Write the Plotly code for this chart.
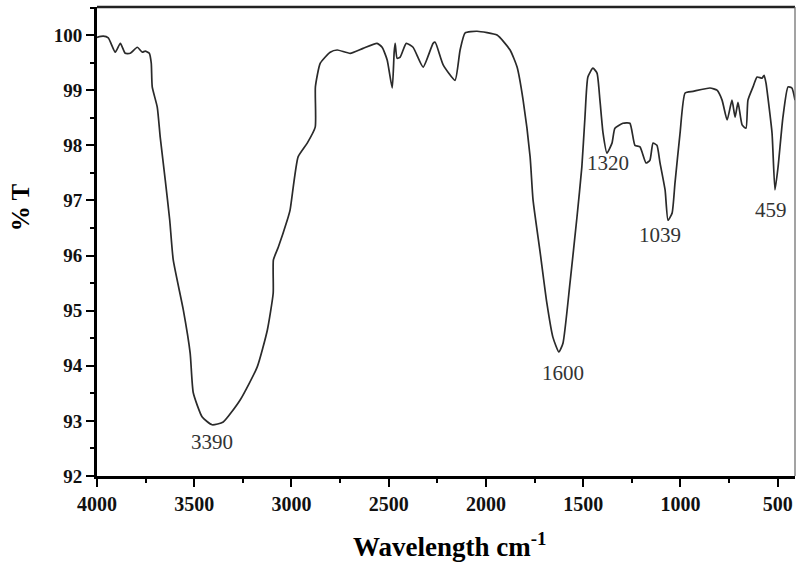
import plotly.graph_objects as go

wavenumber = [4000, 3968, 3942, 3906, 3880, 3855, 3829, 3793, 3767, 3752, 3731, 3721, 3716, 3690,
              3675, 3649, 3626, 3608, 3556, 3521, 3505, 3459, 3408, 3351, 3264, 3176, 3124, 3094,
              3093, 3068, 3022, 3007, 2966, 2919, 2878, 2877, 2852, 2801, 2765, 2698, 2632, 2560,
              2534, 2508, 2482, 2472, 2467, 2457, 2441, 2410, 2375, 2323, 2272, 2261, 2220, 2159,
              2133, 2107, 2046, 1943, 1876, 1840, 1809, 1773, 1758, 1723, 1687, 1656, 1625, 1604,
              1568, 1532, 1507, 1491, 1476, 1450, 1429, 1414, 1398, 1378, 1352, 1337, 1296, 1260,
              1234, 1208, 1177, 1157, 1141, 1121, 1105, 1079, 1064, 1043, 1028, 1002, 976, 935,
              848, 812, 786, 760, 735, 719, 704, 683, 663, 653, 627, 606, 580, 570, 560, 550, 529,
              514, 498, 473, 447, 427, 411]
transmittance = [99.96, 99.98, 99.95, 99.69, 99.85, 99.67, 99.67, 99.78, 99.69, 99.71, 99.67, 99.49,
                 99.06, 98.69, 98.15, 97.37, 96.64, 95.92, 95.01, 94.23, 93.51, 93.07, 92.93, 92.98,
                 93.38, 93.98, 94.65, 95.32, 95.92, 96.15, 96.64, 96.83, 97.79, 98.04, 98.33, 99.06,
                 99.49, 99.69, 99.73, 99.67, 99.76, 99.85, 99.78, 99.55, 99.04, 99.69, 99.85, 99.58,
                 99.60, 99.85, 99.78, 99.42, 99.85, 99.87, 99.46, 99.18, 99.73, 100.04, 100.07, 100.00,
                 99.73, 99.42, 98.82, 97.79, 97.01, 96.10, 95.14, 94.52, 94.25, 94.41, 95.50, 96.70,
                 97.61, 98.51, 99.24, 99.40, 99.31, 98.82, 98.22, 97.86, 98.04, 98.31, 98.40, 98.40,
                 98.00, 97.97, 97.68, 97.73, 98.04, 98.00, 97.68, 97.19, 96.64, 96.77, 97.32, 98.22,
                 98.95, 98.98, 99.04, 99.00, 98.82, 98.46, 98.82, 98.51, 98.78, 98.37, 98.31, 98.82,
                 99.06, 99.24, 99.22, 99.27, 99.13, 98.86, 98.22, 97.19, 97.61, 98.51, 99.06, 99.04,
                 98.82]

peak_labels = ["3390", "1600", "1320", "1039", "459"]
peak_label_x = [3408, 1604, 1373, 1105, 535]
peak_label_y = [92.62, 93.87, 97.68, 96.37, 96.83]

x_tick_vals = [4000, 3500, 3000, 2500, 2000, 1500, 1000, 500]
y_tick_vals = [92, 93, 94, 95, 96, 97, 98, 99, 100]

serif = "Liberation Serif"

fig = go.Figure()
fig.add_trace(go.Scatter(x=wavenumber, y=transmittance, mode="lines",
                         line=dict(color="#2a2a2a", width=1.7, shape="spline", smoothing=0.5),
                         showlegend=False, hoverinfo="skip"))

for t, x, y in zip(peak_labels, peak_label_x, peak_label_y):
    fig.add_annotation(x=x, y=y, text=t, showarrow=False,
                       font=dict(family=serif, size=21, color="#333333"),
                       xanchor="center", yanchor="middle")

fig.add_annotation(xref="paper", yref="paper", x=0, y=0.573, xshift=-77,
                   text="% T", textangle=-90, showarrow=False,
                   font=dict(family=serif, size=25, color="black", weight="bold"),
                   xanchor="center", yanchor="middle")
fig.add_annotation(xref="paper", yref="paper", x=0.505, y=0, yshift=-69,
                   text="Wavelength cm<sup>-1</sup>", showarrow=False,
                   font=dict(family=serif, size=27, color="black", weight="bold"),
                   xanchor="center", yanchor="middle")

# top and right frame lines
fig.add_shape(type="line", xref="paper", yref="paper", x0=0, x1=1, y0=1, y1=1,
              line=dict(color="#222222", width=2.5))
fig.add_shape(type="line", xref="paper", yref="paper", x0=1, x1=1, y0=0, y1=1,
              line=dict(color="#666666", width=1.2))

fig.update_layout(
    width=796, height=566,
    margin=dict(l=97, r=1, t=7, b=90),
    plot_bgcolor="white", paper_bgcolor="white",
    xaxis=dict(range=[4000, 411], tickvals=x_tick_vals, showgrid=False, zeroline=False,
               showline=True, linecolor="black", linewidth=3,
               ticks="outside", ticklen=8, tickwidth=2, tickcolor="black",
               minor=dict(dtick=250, tick0=0, ticks="outside", ticklen=4, tickwidth=2,
                          tickcolor="black", showgrid=False),
               tickfont=dict(family=serif, size=20, color="#111111", weight="bold")),
    yaxis=dict(range=[92, 100.51], tickvals=y_tick_vals, showgrid=False, zeroline=False,
               showline=True, linecolor="black", linewidth=3,
               ticks="outside", ticklen=8, tickwidth=2, tickcolor="black",
               minor=dict(dtick=0.5, tick0=0, ticks="outside", ticklen=4, tickwidth=2,
                          tickcolor="black", showgrid=False),
               tickfont=dict(family=serif, size=19, color="#111111", weight="bold")),
)

fig.write_html("out.html")
